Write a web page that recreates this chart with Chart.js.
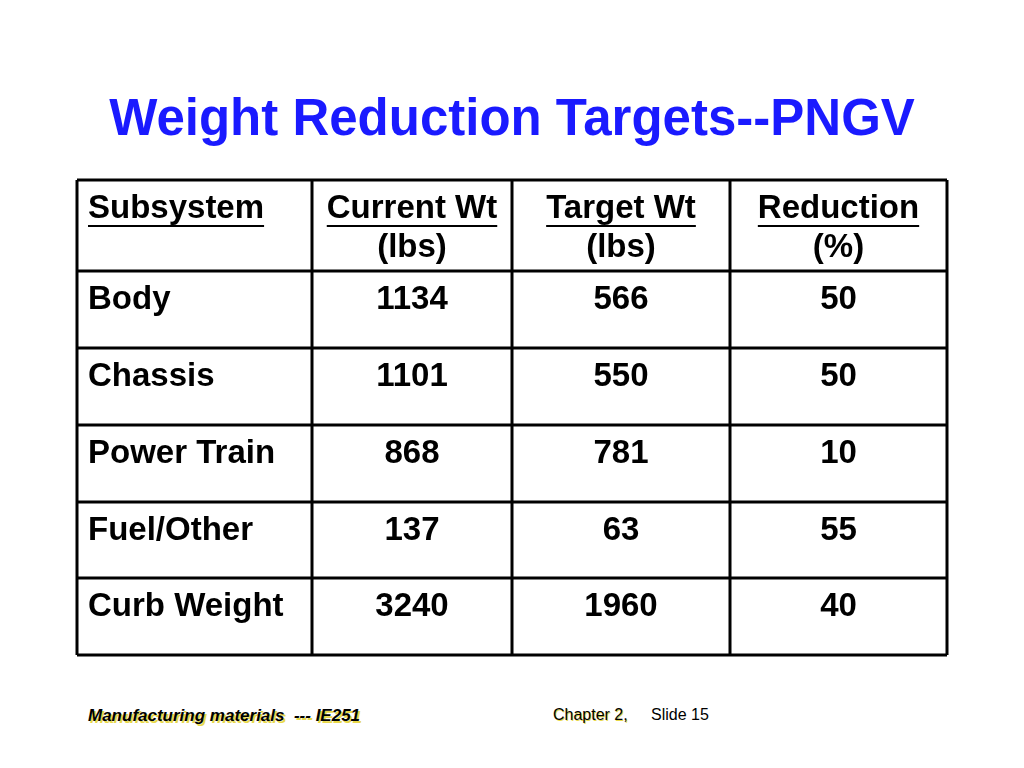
<!DOCTYPE html>
<html>
<head>
<meta charset="utf-8">
<script src="https://cdn.jsdelivr.net/npm/chart.js@4"></script>
<style>
  body { margin: 0; width: 1024px; height: 768px; background: #fff; position: relative; overflow: hidden;
         font-family: "Liberation Sans", Arial, sans-serif; }
  #title { position: absolute; top: 88px; left: 0; width: 1024px; text-align: center;
           color: #1a1aff; font-weight: bold; font-size: 51px; }
  #wrap { position: absolute; left: 75px; top: 178px; width: 874px; height: 479px; }
  .foot { position: absolute; top: 706px; font-size: 17px; }
  #f1 { left: 88px; font-weight: bold; font-style: italic; text-shadow: 2px 2px 0 #e8d84a; }
  #f2 { left: 553px; font-size: 16px; text-shadow: 1px 1px 0 #e8d84a; }
  #f3 { left: 651px; font-size: 16px; }
</style>
</head>
<body>
<div id="title">Weight Reduction Targets--PNGV</div>
<div id="wrap"><canvas id="tbl"></canvas></div>
<div class="foot" id="f1">Manufacturing materials&nbsp; --- IE251</div>
<div class="foot" id="f2">Chapter 2,</div>
<div class="foot" id="f3">Slide 15</div>
<script>
/* ========== DATA ========== */
const headers1 = ["Subsystem", "Current Wt", "Target Wt", "Reduction"];
const headers2 = ["", "(lbs)", "(lbs)", "(%)"];
const subsystems = ["Body", "Chassis", "Power Train", "Fuel/Other", "Curb Weight"];
const currentWt = [1134, 1101, 868, 137, 3240];
const targetWt = [566, 550, 781, 63, 1960];
const reduction = [50, 50, 10, 55, 40];

/* layout: column edges and row edges in table units (px of the table box) */
const colEdges = [0, 235, 435, 653, 870];
const rowEdges = [0, 91, 168, 245, 322, 398, 475];

/* ========== TABLE PLUGIN ========== */
const tablePlugin = {
    id: "tablePlugin",
    afterDraw(chart) {
        const ctx = chart.ctx;
        const xs = chart.scales.x, ys = chart.scales.y;
        const X = v => xs.getPixelForValue(v);
        const Y = v => ys.getPixelForValue(v);

        ctx.save();
        ctx.strokeStyle = "#000";
        ctx.lineWidth = 3;
        colEdges.forEach(c => {
            ctx.beginPath(); ctx.moveTo(X(c), Y(0)); ctx.lineTo(X(c), Y(475)); ctx.stroke();
        });
        rowEdges.forEach(r => {
            ctx.beginPath(); ctx.moveTo(X(0), Y(r)); ctx.lineTo(X(870), Y(r)); ctx.stroke();
        });

        ctx.fillStyle = "#000";
        ctx.font = "bold 33px 'Liberation Sans', Arial, sans-serif";
        ctx.textBaseline = "middle";

        function cell(text, col, y, underline) {
            let x, align;
            if (col === 0) { x = X(colEdges[0]) + 11; align = "left"; }
            else { x = (X(colEdges[col]) + X(colEdges[col + 1])) / 2; align = "center"; }
            ctx.textAlign = align;
            ctx.fillText(text, x, y);
            if (underline) {
                const w = ctx.measureText(text).width;
                const x0 = align === "left" ? x : x - w / 2;
                ctx.fillRect(x0, y + 16, w, 2);
            }
        }

        headers1.forEach((h, i) => cell(h, i, Y(29), true));
        headers2.forEach((h, i) => { if (h) cell(h, i, Y(68), false); });

        subsystems.forEach((s, r) => {
            const y = Y(rowEdges[r + 1] + 29);
            cell(s, 0, y);
            cell(String(currentWt[r]), 1, y);
            cell(String(targetWt[r]), 2, y);
            cell(String(reduction[r]), 3, y);
        });
        ctx.restore();
    }
};

new Chart(document.getElementById("tbl"), {
    type: "scatter",
    data: { datasets: [{ data: [] }] },
    options: {
        responsive: true,
        maintainAspectRatio: false,
        animation: false,
        layout: { padding: 2 },
        plugins: { legend: { display: false }, tooltip: { enabled: false } },
        scales: {
            x: { type: "linear", min: 0, max: 870, display: false },
            y: { type: "linear", min: 0, max: 475, reverse: true, display: false }
        }
    },
    plugins: [tablePlugin]
});
</script>
</body>
</html>
